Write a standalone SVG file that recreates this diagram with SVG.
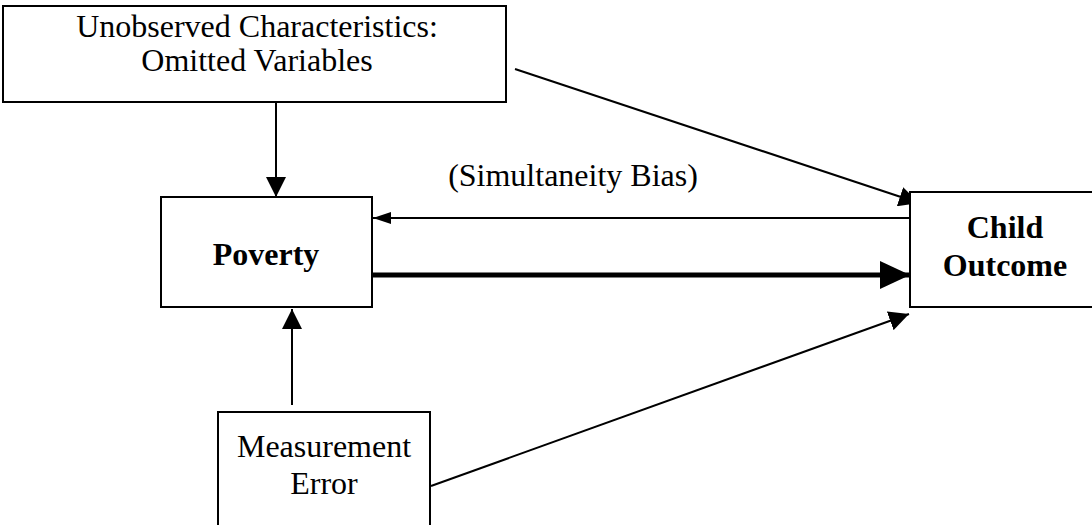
<svg xmlns="http://www.w3.org/2000/svg" width="1092" height="525" viewBox="0 0 1092 525">
  <style>
    .box { fill: #ffffff; stroke: #000000; stroke-width: 2; }
    .t { font-family: "Liberation Serif", "Times New Roman", serif; font-size: 32px; fill: #000000; text-anchor: middle; }
    .b { font-weight: bold; }
    .c { stroke: #000000; stroke-width: 2; fill: none; }
    .thick { stroke-width: 5; }
  </style>
  <defs>
    <marker id="ah" markerUnits="userSpaceOnUse" markerWidth="20" markerHeight="20" refX="20" refY="10" orient="auto">
      <path d="M0,0 L20,10 L0,20 z" fill="#000000"/>
    </marker>
    <marker id="ahs" markerUnits="userSpaceOnUse" markerWidth="18" markerHeight="12" refX="18" refY="6" orient="auto">
      <path d="M0,0 L18,6 L0,12 z" fill="#000000"/>
    </marker>
    <marker id="ahb" markerUnits="userSpaceOnUse" markerWidth="30" markerHeight="28" refX="30" refY="14" orient="auto">
      <path d="M0,0 L30,14 L0,28 z" fill="#000000"/>
    </marker>
  </defs>

  <g id="connectors">
    <line class="c" x1="276" y1="102" x2="276" y2="197" marker-end="url(#ah)"/>
    <line class="c" x1="515" y1="69" x2="919" y2="203" marker-end="url(#ah)"/>
    <line class="c" x1="910" y1="218" x2="373" y2="218" marker-end="url(#ahs)"/>
    <line class="c thick" x1="372" y1="275" x2="910" y2="275" marker-end="url(#ahb)"/>
    <line class="c" x1="292" y1="405" x2="292" y2="309" marker-end="url(#ah)"/>
    <line class="c" x1="431" y1="486" x2="909" y2="314" marker-end="url(#ah)"/>
  </g>

  <g id="node-unobserved">
    <rect class="box" x="3" y="6" width="503" height="96"/>
    <text class="t" x="257" y="37">Unobserved Characteristics:</text>
    <text class="t" x="257" y="71">Omitted Variables</text>
  </g>

  <g id="label-simultaneity">
    <text class="t" x="573" y="186">(Simultaneity Bias)</text>
  </g>

  <g id="node-poverty">
    <rect class="box" x="161" y="197" width="211" height="110"/>
    <text class="t b" x="266" y="265">Poverty</text>
  </g>

  <g id="node-child">
    <rect class="box" x="910" y="192" width="190" height="115"/>
    <text class="t b" x="1005" y="238">Child</text>
    <text class="t b" x="1005" y="276">Outcome</text>
  </g>

  <g id="node-measurement">
    <rect class="box" x="218" y="412" width="212" height="120"/>
    <text class="t" x="324" y="457">Measurement</text>
    <text class="t" x="324" y="494">Error</text>
  </g>
</svg>
